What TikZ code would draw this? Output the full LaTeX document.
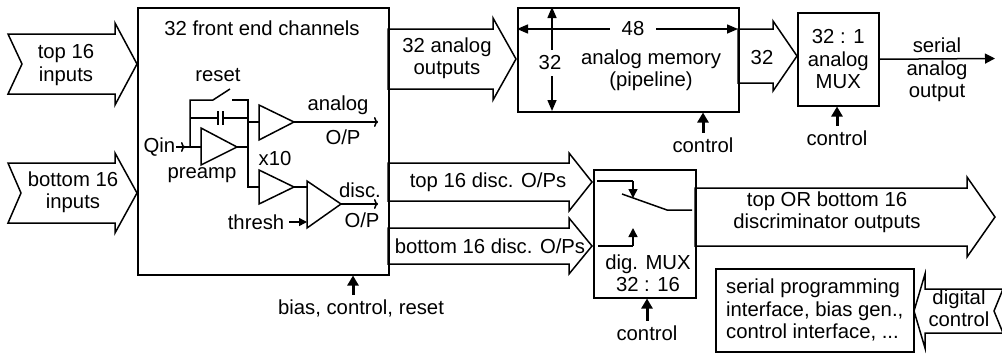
\documentclass[tikz,border=0pt]{standalone}
\usepackage{fontspec}
\setmainfont{Liberation Sans}
\usetikzlibrary{arrows.meta}
% tail x, notch, head x, tip x, centre y, half body, half head
\newcommand\blockarrow[7]{%
  \draw (#1,#5-#6) -- (#3,#5-#6) -- (#3,#5-#7) -- (#4,#5)
    -- (#3,#5+#7) -- (#3,#5+#6) -- (#1,#5+#6) -- (#1+#2,#5) -- cycle;}
\begin{document}
\begin{tikzpicture}[x=1pt,y=-1pt,line width=1.5pt,line join=miter,
  font=\fontsize{20.3}{22.5}\selectfont]
\tikzset{box/.style={draw,anchor=north west,inner sep=0pt},
  txt/.style={align=center,inner sep=0pt},
  ctl/.style={line width=3pt,-{Triangle[length=10pt,width=11pt]}},
  sig/.style={-{To[length=4pt,width=10pt]}},
  tip/.style={-{Triangle[length=9pt,width=9pt]}},
  dim/.style={{Triangle[length=11pt,width=9pt]}-{Triangle[length=11pt,width=9pt]}}}
\useasboundingbox (0,0) rectangle (1002,354);

% block arrows
\blockarrow{8}{14}{115}{137}{64}{30}{41}
\blockarrow{8}{13}{115}{137}{193}{30}{40}
\blockarrow{388}{0}{493}{516}{59}{30}{41}
\blockarrow{388}{0}{569}{592}{182}{19}{29}
\blockarrow{388}{0}{569}{592}{246}{18}{28}
\blockarrow{738}{0}{773}{797}{56}{27}{35}
\blockarrow{695}{0}{967}{995}{217}{29}{40}
\blockarrow{1003}{-9}{925}{914}{311}{22}{37}

% blocks
\node[box,minimum width=251pt,minimum height=267pt] (fe) at (137,7) {};
\node[box,minimum width=221pt,minimum height=104pt] (mem) at (517,7) {};
\node[box,minimum width=81pt,minimum height=93pt,align=center] (amux) at (797,12) {32 : 1\\analog\\MUX};
\node[box,minimum width=102pt,minimum height=128pt] (dmux) at (593,169) {};
\node[box,minimum width=198pt,minimum height=83pt,align=left] (spi) at (715,268) {serial programming\\interface, bias gen.,\\control interface, ...};

% texts
\node[txt] (fetitle) at (262,28) {32 front end channels};
\node[txt] (topin) at (66,65) {top 16\\inputs};
\node[txt] (botin) at (73,192) {bottom 16\\inputs};
\node[txt] (anout) at (447,58) {32 analog\\outputs};
\node[txt] (memtxt) at (651,70) {analog memory\\(pipeline)};
\node[txt] (n32) at (762,58) {32};
\node[txt] (serout) at (937,70) {serial\\analog\\output};
\node[txt] (topdisc) at (488,182) {top 16 disc. O/Ps};
\node[txt] (botdisc) at (490,246) {bottom 16 disc. O/Ps};
\node[txt] (dmuxtxt) at (648,273) {dig. MUX\\32 : 16};
\node[txt] (orout) at (827,212) {top OR bottom 16\\discriminator outputs};
\node[txt] (digctl) at (959,308) {digital\\control};

% memory size
\draw[dim] (517,29) -- (738,29);
\node[txt,fill=white,inner xsep=12pt,inner ysep=2pt] (w48) at (633,29) {48};
\draw[dim] (552,7) -- (552,111);
\node[txt,fill=white,inner xsep=1pt,inner ysep=6pt] (h32) at (550,63) {32};

% output
\coordinate (serend) at (995,58.5);
\draw[-{Triangle[length=10pt,width=10pt]}] (amux.east) -- (serend);

% control inputs
\node[txt] (memctl) at (703,145) {control};
\draw[ctl] ([yshift=4pt]memctl.north) -- (memctl.north |- mem.south);
\node[txt] (amuxctl) at (837,138) {control};
\draw[ctl] ([yshift=4pt]amuxctl.north) -- (amuxctl.north |- amux.south);
\node[txt] (dmuxctl) at (647,333) {control};
\draw[ctl] ([yshift=4pt]dmuxctl.north) -- (dmuxctl.north |- dmux.south);
\node[txt] (fectl) at (361,308) {bias, control, reset};
\coordinate (fectltop) at ([xshift=-8pt,yshift=4pt]fectl.north);
\draw[ctl] (fectltop) -- (fectltop |- fe.south);

% front end channel
\node[txt,anchor=east] (qin) at (176,147) {Qin};
\draw[sig] (qin.east) -- (185,147);
\draw (183,147) -- (201,147);
\draw (190,147) -- (190,100) -- (213,100) -- (230,89);
\draw (232,100) -- (248,100) -- (248,187) -- (259,187);
\draw (190,118) -- (218,118) (218,111) -- (218,125) (223,111) -- (223,125) (223,118) -- (248,118);
\draw (201,128) -- (237,147) -- (201,165) -- cycle;
\draw (237,147) -- (248,147);
\draw (248,122) -- (259,122);
\draw (259,105) -- (294,122) -- (259,140) -- cycle;
\draw[sig] (294,122) -- (378,122);
\draw (259,170) -- (294,187) -- (259,204) -- cycle;
\draw (294,187) -- (307,187);
\draw (307,181) -- (341,204) -- (307,228) -- cycle;
\draw[sig] (341,204) -- (378,204);
\node[txt,anchor=east] (thresh) at (285,222) {thresh};
\draw[-{Triangle[length=8pt,width=8pt]}] ([xshift=4pt]thresh.east) -- (307,222);
\node[txt] (rst) at (218,75) {reset};
\node[txt] (anlbl) at (338,105) {analog};
\node[txt] (anop) at (343,137) {O/P};
\node[txt] (prelbl) at (202,175) {preamp};
\node[txt] (gain) at (275,159) {x10};
\node[txt] (disclbl) at (360,190) {disc.};
\node[txt] (discop) at (362,220) {O/P};

% digital mux switch
\draw (597,181) -- (633,181);
\draw[tip] (633,181) -- (633,198);
\draw (622,194) -- (667,210) -- (692,210);
\draw (598,246) -- (633,246);
\draw[tip] (633,246) -- (633,228);
\end{tikzpicture}
\end{document}
